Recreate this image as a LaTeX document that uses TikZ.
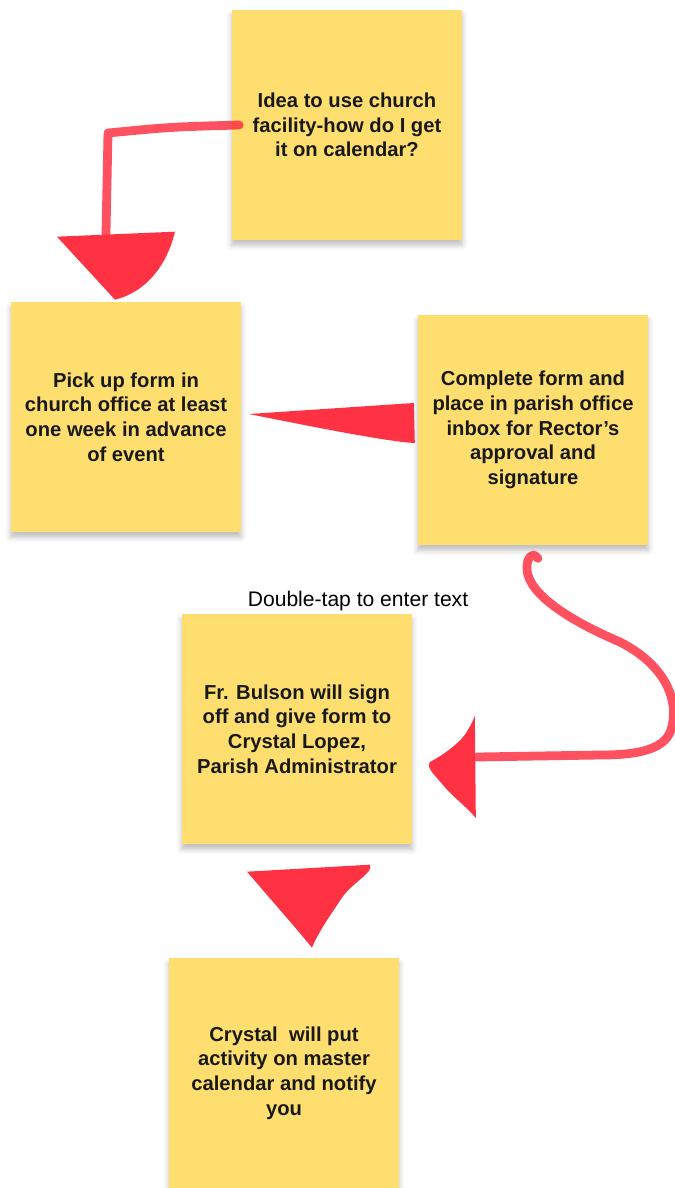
\documentclass[tikz,border=0pt]{standalone}
\usepackage{fontspec}
\setmainfont{Liberation Sans}
\usetikzlibrary{calc,shadows.blur}

\definecolor{notey}{RGB}{253,222,110}
\definecolor{inkred}{RGB}{255,50,68}

\tikzset{
  note/.style={fill=notey, minimum width=4.62cm, minimum height=4.6cm,
    align=center, text=black!90, font=\bfseries\fontsize{11.5}{14}\selectfont,
    blur shadow={shadow xshift=0pt, shadow yshift=-3pt, shadow blur radius=3pt, shadow opacity=25}},
  pencil/.style={draw=inkred, opacity=0.85, line width=5pt, line cap=round, line join=round},
  inkhead/.style={fill=inkred}
}

\begin{document}
\begin{tikzpicture}[x=0.02cm,y=-0.02cm]

\useasboundingbox (0,0) rectangle (675,1188);

\node[note] (idea) at (347,125) {Idea to use church\\facility-how do I get\\it on calendar?};
\node[note] (pickup) at (126,417) {Pick up form in\\church office at least\\one week in advance\\of event};
\node[note] (complete) at (533,430) {Complete form and\\place in parish office\\inbox for Rector’s\\approval and\\signature};
\node[note] (signoff) at (297,729) {Fr. Bulson will sign\\off and give form to\\Crystal Lopez,\\Parish Administrator};
\node[note] (calendar) at (284,1073) {Crystal~ will put\\activity on master\\calendar and notify\\you};

\node[font=\fontsize{12}{14}\selectfont] (hint) at (358,601) {Double-tap to enter text};

% idea -> pick up
\coordinate (t1) at ($(pickup.north)+(-11,-2)$);
\draw[pencil] ($(idea.west)+(8,0)$) .. controls (170,127) .. (108,133) -- ($(t1)+(-9,-66)$);
\begin{scope}[shift={(t1)}]
\fill[inkhead] (0,0) -- (-58,-63) -- (60,-68) .. controls (52,-35) and (32,-8) .. (0,0) -- cycle;
\end{scope}

% complete -> pick up
\coordinate (t2) at ($(pickup.east)+(7,-3)$);
\begin{scope}[shift={(t2)}]
\fill[inkhead] (0,0) -- (165,-11) -- (166,29) .. controls (140,28) and (60,12) .. (0,0) -- cycle;
\end{scope}

% complete -> sign off
\coordinate (t3) at ($(signoff.east)+(17,33)$);
\draw[pencil] ($(complete.south)+(5,13)$) .. controls (532,550) and (524,560) .. (528,575)
  .. controls (535,600) and (580,625) .. (620,642)
  .. controls (665,665) and (680,700) .. (671,730)
  .. controls (664,752) and (630,755) .. (600,755) -- ($(t3)+(47,-5)$);
\begin{scope}[shift={(t3)}]
\fill[inkhead] (0,0) .. controls (12,-6) and (32,-20) .. (38,-32) .. controls (42,-38) and (44,-44) .. (45,-46)
  -- (46,56) .. controls (36,44) and (22,34) .. (14,24) .. controls (6,14) and (-4,6) .. (0,0) -- cycle;
\end{scope}

% sign off -> calendar
\coordinate (t4) at ($(calendar.north)+(28,-10)$);
\begin{scope}[shift={(t4)}]
\fill[inkhead] (0,0) -- (-15,-18) -- (-65,-76) -- (58,-83) .. controls (62,-75) and (40,-65) .. (30,-50)
  .. controls (18,-32) and (6,-15) .. (0,0) -- cycle;
\end{scope}

\end{tikzpicture}
\end{document}
